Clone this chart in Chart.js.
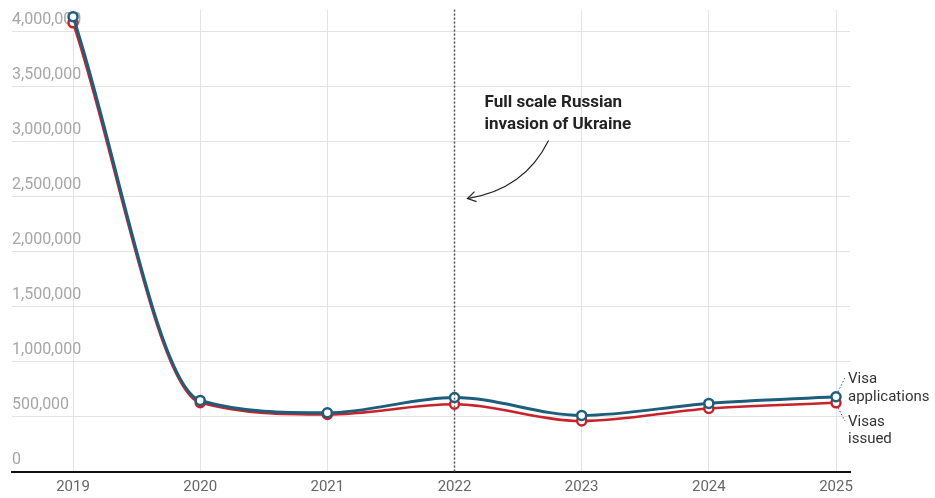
<!DOCTYPE html>
<html>
<head>
<meta charset="utf-8">
<script src="https://cdn.jsdelivr.net/npm/chart.js@4"></script>
<style>
  html,body{margin:0;padding:0;background:#fff;}
  #wrap{width:935px;height:498px;position:relative;}
</style>
</head>
<body>
<div id="wrap"><canvas id="c" width="935" height="498"></canvas></div>
<script>
const years = [2019, 2020, 2021, 2022, 2023, 2024, 2025];
const visaApplications = [4136000, 650000, 538000, 677000, 514000, 623000, 683000];
const visasIssued = [4080000, 630000, 522000, 615000, 463000, 577000, 628000];
const yTickValues = [0, 500000, 1000000, 1500000, 2000000, 2500000, 3000000, 3500000, 4000000];
const eventYear = 2022;
const eventLabel = ["Full scale Russian", "invasion of Ukraine"];
const seriesLabels = {applications: ["Visa", "applications"], issued: ["Visas", "issued"]};

const BLUE = '#1e5e7b';
const RED = '#c8232b';
const FONT = 'Roboto, "Open Sans", sans-serif';

const overlay = {
  id: 'overlay',
  afterDatasetsDraw(chart) {
    const ctx = chart.ctx;
    const xs = chart.scales.x, ys = chart.scales.y;
    const area = chart.chartArea;
    const ex = xs.getPixelForValue(eventYear);
    ctx.save();
    ctx.strokeStyle = '#555';
    ctx.lineWidth = 1.5;
    ctx.setLineDash([2, 2]);
    ctx.beginPath();
    ctx.moveTo(ex, area.top);
    ctx.lineTo(ex, area.bottom);
    ctx.stroke();
    ctx.setLineDash([]);
    ctx.fillStyle = '#222';
    ctx.font = 'bold 17px ' + FONT;
    ctx.textAlign = 'left';
    ctx.textBaseline = 'middle';
    ctx.fillText(eventLabel[0], ex + 30, area.top + 93);
    ctx.fillText(eventLabel[1], ex + 30, area.top + 115);
    const sx = ex + 94, sy = area.top + 131;
    const tx = ex + 13, ty = area.top + 189;
    ctx.strokeStyle = '#222';
    ctx.lineWidth = 1.2;
    ctx.beginPath();
    ctx.moveTo(sx, sy);
    ctx.quadraticCurveTo(ex + 70, area.top + 180, tx, ty);
    ctx.stroke();
    ctx.beginPath();
    ctx.moveTo(tx + 7, ty - 7);
    ctx.lineTo(tx, ty);
    ctx.lineTo(tx + 9, ty + 3);
    ctx.stroke();
    const lx = xs.getPixelForValue(years[years.length - 1]);
    const by = ys.getPixelForValue(visaApplications[visaApplications.length - 1]);
    const ry = ys.getPixelForValue(visasIssued[visasIssued.length - 1]);
    ctx.lineWidth = 1;
    ctx.setLineDash([1.5, 2]);
    ctx.strokeStyle = BLUE;
    ctx.beginPath(); ctx.moveTo(lx + 2, by - 5); ctx.lineTo(lx + 9, by - 19); ctx.stroke();
    ctx.strokeStyle = RED;
    ctx.beginPath(); ctx.moveTo(lx + 2, ry + 5); ctx.lineTo(lx + 9, ry + 18); ctx.stroke();
    ctx.setLineDash([]);
    ctx.fillStyle = '#333';
    ctx.font = '15px ' + FONT;
    ctx.textAlign = 'left';
    ctx.fillText(seriesLabels.applications[0], lx + 12, by - 18);
    ctx.fillText(seriesLabels.applications[1], lx + 12, by + 0);
    ctx.fillText(seriesLabels.issued[0], lx + 12, ry + 19);
    ctx.fillText(seriesLabels.issued[1], lx + 12, ry + 36);
    ctx.restore();
  }
};

new Chart(document.getElementById('c'), {
  type: 'line',
  data: {
    datasets: [
      {
        label: 'Visa applications',
        data: years.map((y, i) => ({x: y, y: visaApplications[i]})),
        borderColor: BLUE,
        backgroundColor: '#fff',
        borderWidth: 3,
        pointRadius: 4.5,
        pointBorderWidth: 2.5,
        pointBackgroundColor: '#fff',
        pointBorderColor: BLUE,
        cubicInterpolationMode: 'monotone'
      },
      {
        label: 'Visas issued',
        data: years.map((y, i) => ({x: y, y: visasIssued[i]})),
        borderColor: RED,
        backgroundColor: '#fff',
        borderWidth: 2.5,
        pointRadius: 4.5,
        pointBorderWidth: 2.5,
        pointBackgroundColor: '#fff',
        pointBorderColor: RED,
        cubicInterpolationMode: 'monotone'
      }
    ]
  },
  options: {
    responsive: false,
    animation: false,
    layout: {padding: {left: 12, right: 85, top: 5, bottom: -4}},
    plugins: {legend: {display: false}, tooltip: {enabled: false}},
    scales: {
      x: {
        type: 'linear',
        min: 2018.52,
        max: 2025.11,
        afterBuildTicks(scale) { scale.ticks = years.map(v => ({value: v})); },
        grid: {color: '#e3e3e3', lineWidth: 1, drawTicks: false},
        border: {display: true, color: '#111', width: 2},
        ticks: {
          callback: v => String(v),
          color: '#666',
          font: {family: FONT, size: 15},
          padding: 6,
          maxRotation: 0,
          autoSkip: false
        }
      },
      y: {
        min: 0,
        max: 4200000,
        afterBuildTicks(scale) { scale.ticks = yTickValues.map(v => ({value: v})); },
        grid: {color: '#e3e3e3', lineWidth: 1, drawTicks: false},
        border: {display: false},
        ticks: {
          mirror: true,
          padding: 0,
          labelOffset: -12,
          color: '#a6a6a6',
          font: {family: FONT, size: 16},
          callback: v => v.toLocaleString('en-US')
        }
      }
    }
  },
  plugins: [overlay]
});
</script>
</body>
</html>
